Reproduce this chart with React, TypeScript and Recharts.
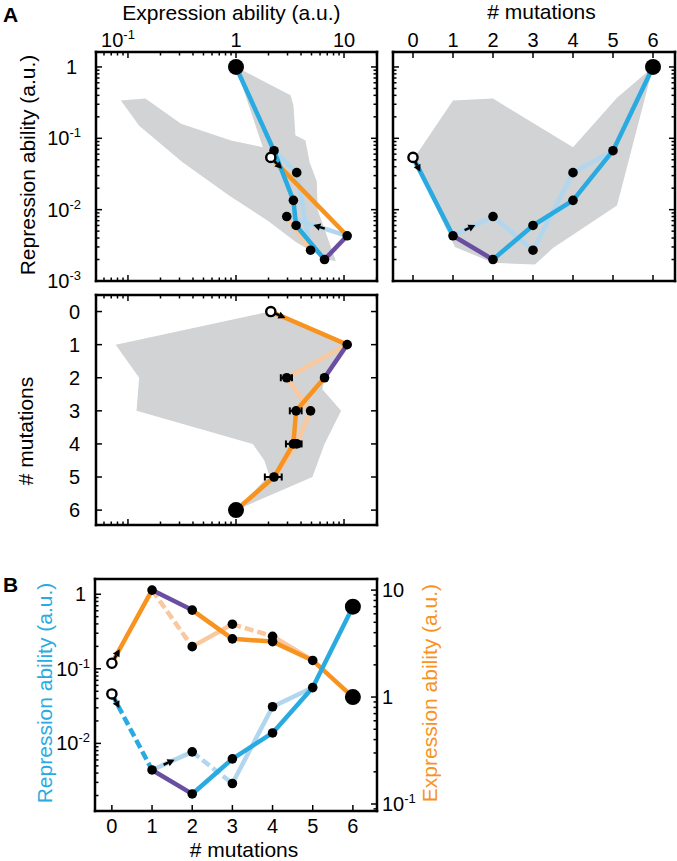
import React from 'react';
import { ScatterChart, Scatter, XAxis, YAxis } from 'recharts';

const W = 677;
const H = 861;
const FONT = '"Liberation Sans", Arial, Helvetica, sans-serif';

const BLUE = '#29abe2';
const ORANGE = '#f7931e';
const PURPLE = '#6a4fa0';
const LIGHT_BLUE = '#b1d6ee';
const LIGHT_ORANGE = '#f9c89e';
const GRAY = '#d1d3d4';

// main path, one value per mutation step
const steps = [0, 1, 2, 3, 4, 5, 6];
const repression = [0.054, 0.0043, 0.002, 0.006, 0.0135, 0.067, 1];
const expression = [2.1, 10.7, 6.6, 3.6, 3.4, 2.25, 1];
// alternative path (steps 2-4)
const altSteps = [2, 3, 4];
const altRepression = [0.008, 0.0027, 0.033];
const altExpression = [2.95, 4.9, 3.65];
// panel B values
const repressionB = [0.046, 0.0044, 0.0021, 0.0062, 0.0138, 0.056, 0.68];
const expressionB = [2.07, 10, 6.5, 3.5, 3.3, 2.2, 1];
const altRepressionB = [0.0077, 0.0029, 0.031];
const altExpressionB = [2.96, 4.8, 3.7];
// horizontal error bars on expression (panel A, bottom)
const errIds = ['a2', 'm3', 'm4', 'a4', 'm5'];
const errExpression = [0.35, 0.45, 0.5, 0.4, 0.4];

// grey envelopes
const envTLExpression = [0.086, 0.145, 0.31, 0.9, 1.77, 1.0, 3.2, 3.4, 3.55, 4.4, 4.8, 5.6, 5.7, 8.4, 6.8, 3.6, 2.0, 0.87, 0.32, 0.127];
const envTLRepression = [0.34, 0.36, 0.16, 0.093, 0.075, 1.0, 0.4, 0.29, 0.11, 0.093, 0.046, 0.025, 0.01, 0.0019, 0.002, 0.0035, 0.0069, 0.0156, 0.046, 0.15];
const envTRSteps = [0, 1, 2, 4, 5.1, 6, 5.1, 3.5, 3.05, 2, 1.05];
const envTRRepression = [0.05, 0.34, 0.36, 0.075, 0.37, 1, 0.0114, 0.0029, 0.0017, 0.0018, 0.003];
const envBLExpression = [2.05, 0.077, 0.127, 0.12, 1.43, 1.83, 2.03, 1.0, 5.1, 6.6, 9.4, 6.3, 6.6, 10.7];
const envBLSteps = [0, 1, 2, 3, 4, 4.5, 4.95, 6, 5, 4, 3, 2.35, 2, 1];

const logTicks = (lo: number, hi: number) => {
  const out: number[] = [];
  for (let e = Math.floor(Math.log10(lo)); e <= Math.ceil(Math.log10(hi)); e++) {
    for (let m = 1; m <= 9; m++) {
      const v = Number((m * Math.pow(10, e)).toPrecision(3));
      if (v >= lo && v <= hi) out.push(v);
    }
  }
  return out;
};

type Side = 'top' | 'bottom' | 'left' | 'right';
interface AxisSpec { domain: [number, number]; log: boolean; ticks: number[]; reversed?: boolean }

const exprAxis: AxisSpec = { domain: [0.0506, 20.2], log: true, ticks: logTicks(0.0506, 20.2) };
const repAxis: AxisSpec = { domain: [0.001, 1.62], log: true, ticks: logTicks(0.001, 1.62) };
const stepAxisTR: AxisSpec = { domain: [-0.5, 6.55], log: false, ticks: steps };
const stepAxisBL: AxisSpec = { domain: [-0.5, 6.45], log: false, ticks: steps, reversed: true };
const stepAxisB: AxisSpec = { domain: [-0.42, 6.6], log: false, ticks: steps };
const repAxisB: AxisSpec = { domain: [0.00124, 1.6], log: true, ticks: logTicks(0.00124, 1.6) };
const expAxisB: AxisSpec = { domain: [0.086, 12.7], log: true, ticks: logTicks(0.086, 12.7) };

const AXIS_LINE = { stroke: '#000', strokeWidth: 2.5, strokeLinecap: 'square' as const };

const makeTick = (side: Side, log: boolean, gap: number | null) => (props: any) => {
  const { x, y, payload } = props;
  const v = Number(payload.value);
  const e = log ? Math.round(Math.log10(v)) : 0;
  const major = !log || Math.abs(Math.log10(v) - e) < 1e-6;
  const len = major ? 6 : 3.5;
  const dx = side === 'left' ? len : side === 'right' ? -len : 0;
  const dy = side === 'top' ? len : side === 'bottom' ? -len : 0;
  let label: React.ReactNode = null;
  if (gap !== null && major) {
    const sup = log && e !== 0 && e !== 1;
    let lx = x;
    let ly = y;
    let anchor: 'start' | 'middle' | 'end' = 'middle';
    if (side === 'top') { ly = y - gap; if (sup) lx = x - 10; }
    else if (side === 'bottom') ly = y + gap;
    else if (side === 'left') { lx = x - gap - (log && !sup ? 4 : 0); ly = y + 7; anchor = 'end'; }
    else { lx = x + gap; ly = y + 7; anchor = 'start'; }
    const body = !log ? String(v) : e === 0 ? '1' : e === 1 ? '10' : (
      <>10<tspan fontSize={13} dy={-8}>{e}</tspan></>
    );
    label = (
      <text x={lx} y={ly} textAnchor={anchor} fontSize={20} fontFamily={FONT} fill="#000">{body}</text>
    );
  }
  return (
    <g>
      <line x1={x} y1={y} x2={x + dx} y2={y + dy} stroke="#000" strokeWidth={1.5} />
      {label}
    </g>
  );
};

const xAxis = (id: string, side: 'top' | 'bottom', s: AxisSpec, gap: number | null, ticks = true) => (
  <XAxis key={id} xAxisId={id} orientation={side} type="number" dataKey="x"
    scale={s.log ? 'log' : 'linear'} domain={s.domain} allowDataOverflow reversed={s.reversed}
    ticks={s.ticks} interval={0} height={1} tickSize={0} tickMargin={0} tickLine={false}
    axisLine={AXIS_LINE} tick={ticks ? makeTick(side, s.log, gap) : false} />
);

const yAxis = (id: string, side: 'left' | 'right', s: AxisSpec, gap: number | null) => (
  <YAxis key={id} yAxisId={id} orientation={side} type="number" dataKey="y"
    scale={s.log ? 'log' : 'linear'} domain={s.domain} allowDataOverflow reversed={s.reversed}
    ticks={s.ticks} interval={0} width={1} tickSize={0} tickMargin={0} tickLine={false}
    axisLine={AXIS_LINE} tick={makeTick(side, s.log, gap)} />
);

type Pt = { x: number; y: number };
type Coord = (id: string) => Pt;

const valueOf = (main: number[], alt: number[], id: string) => {
  const n = Number(id.slice(1));
  return id[0] === 'm' ? main[steps.indexOf(n)] : alt[altSteps.indexOf(n)];
};
const stepOf = (id: string) => Number(id.slice(1));

const tlCoord: Coord = (id) => ({ x: valueOf(expression, altExpression, id), y: valueOf(repression, altRepression, id) });
const trCoord: Coord = (id) => ({ x: stepOf(id), y: valueOf(repression, altRepression, id) });
const blCoord: Coord = (id) => ({ x: valueOf(expression, altExpression, id), y: stepOf(id) });
const bRepCoord: Coord = (id) => ({ x: stepOf(id), y: valueOf(repressionB, altRepressionB, id) });
const bExpCoord: Coord = (id) => ({ x: stepOf(id), y: valueOf(expressionB, altExpressionB, id) });

const noShape = () => <g />;

const hullShape = (p: any) => (
  <polygon points={p.points.map((q: any) => `${q.x},${q.y}`).join(' ')} fill={GRAY} stroke="none" />
);

// horizontal error bar drawn between the low and high points
const errShape = (p: any) => {
  const [a, b] = p.points;
  return (
    <g stroke="#000" strokeWidth={2}>
      <line x1={a.x} y1={a.y} x2={b.x} y2={b.y} />
      <line x1={a.x} y1={a.y - 3.5} x2={a.x} y2={a.y + 3.5} />
      <line x1={b.x} y1={b.y - 3.5} x2={b.x} y2={b.y + 3.5} />
    </g>
  );
};

const arrowShape = (at: number, frac: boolean) => (p: any) => {
  const [a, b] = p.points;
  const dx = b.x - a.x;
  const dy = b.y - a.y;
  const L = Math.hypot(dx, dy) || 1;
  const ux = dx / L;
  const uy = dy / L;
  const d = frac ? at * L : at;
  const tx = a.x + ux * d;
  const ty = a.y + uy * d;
  const nx = -uy;
  const ny = ux;
  const bx = tx - ux * 7;
  const by = ty - uy * 7;
  return (
    <g>
      <line x1={tx - ux * 12} y1={ty - uy * 12} x2={bx} y2={by} stroke="#000" strokeWidth={2.5} />
      <polygon points={`${tx},${ty} ${bx + nx * 3.8},${by + ny * 3.8} ${bx - nx * 3.8},${by - ny * 3.8}`} fill="#000" />
    </g>
  );
};

interface Seg { ids: string[]; color: string; dashed?: boolean }
interface Arrow { ids: string[]; at: number; frac?: boolean }

const hull = (key: string, xs: number[], ys: number[], xId: string, yId: string) => (
  <Scatter key={key} data={xs.map((x, i) => ({ x, y: ys[i] }))} xAxisId={xId} yAxisId={yId}
    fill={GRAY} line={hullShape} lineType="joint" shape={noShape} isAnimationActive={false} />
);

const segments = (key: string, coord: Coord, xId: string, yId: string, segs: Seg[]) =>
  segs.map((s, i) => (
    <Scatter key={`${key}-${i}`} data={s.ids.map(coord)} xAxisId={xId} yAxisId={yId} fill={s.color}
      line={{ stroke: s.color, strokeWidth: 4.5, strokeDasharray: s.dashed ? '9 4' : undefined,
        strokeLinejoin: 'round', strokeLinecap: s.dashed ? 'butt' : 'round' }}
      lineType="joint" shape={noShape} isAnimationActive={false} />
  ));

const arrows = (key: string, coord: Coord, xId: string, yId: string, list: Arrow[]) =>
  list.map((a, i) => (
    <Scatter key={`${key}-${i}`} data={a.ids.map(coord)} xAxisId={xId} yAxisId={yId} fill="#000"
      line={arrowShape(a.at, !!a.frac)} lineType="joint" shape={noShape} isAnimationActive={false} />
  ));

const errorBars = (key: string, xId: string, yId: string) =>
  errIds.map((id, i) => {
    const c = blCoord(id);
    const e = errExpression[i];
    return (
      <Scatter key={`${key}-${i}`} data={[{ x: c.x - e, y: c.y }, { x: c.x + e, y: c.y }]} xAxisId={xId} yAxisId={yId}
        fill="#000" line={errShape} lineType="joint" shape={noShape} isAnimationActive={false} />
    );
  });

const dots = (key: string, coord: Coord, xId: string, yId: string) => [
  <Scatter key={`${key}-s`} data={['m1', 'm2', 'm3', 'm4', 'm5', 'a2', 'a3', 'a4'].map(coord)} xAxisId={xId} yAxisId={yId}
    fill="#000" shape={(p: any) => <circle cx={p.cx} cy={p.cy} r={4.8} fill="#000" />} isAnimationActive={false} />,
  <Scatter key={`${key}-b`} data={['m6'].map(coord)} xAxisId={xId} yAxisId={yId}
    fill="#000" shape={(p: any) => <circle cx={p.cx} cy={p.cy} r={8} fill="#000" />} isAnimationActive={false} />,
  <Scatter key={`${key}-o`} data={['m0'].map(coord)} xAxisId={xId} yAxisId={yId}
    fill="#fff" shape={(p: any) => <circle cx={p.cx} cy={p.cy} r={4.6} fill="#fff" stroke="#000" strokeWidth={2.4} />} isAnimationActive={false} />,
];

interface Plot { x: number; y: number; w: number; h: number }

const chart = (key: string, p: Plot, children: React.ReactNode[]) => (
  <div key={key} style={{ position: 'absolute', left: 0, top: 0 }}>
    <ScatterChart width={W} height={H}
      margin={{ top: p.y - 1, left: p.x - 1, right: W - p.x - p.w - 1, bottom: H - p.y - p.h - 1 }}>
      {children}
    </ScatterChart>
  </div>
);

const tlSegs: Seg[] = [
  { ids: ['m1', 'a2'], color: LIGHT_BLUE },
  { ids: ['a3', 'a4', 'm5'], color: LIGHT_BLUE },
  { ids: ['a2', 'a3'], color: LIGHT_ORANGE },
  { ids: ['m0', 'm1'], color: ORANGE },
  { ids: ['m2', 'm3', 'm4', 'm5', 'm6'], color: BLUE },
  { ids: ['m1', 'm2'], color: PURPLE },
];
const trSegs: Seg[] = [
  { ids: ['m1', 'a2', 'a3', 'a4', 'm5'], color: LIGHT_BLUE },
  { ids: ['m0', 'm1'], color: BLUE },
  { ids: ['m2', 'm3', 'm4', 'm5', 'm6'], color: BLUE },
  { ids: ['m1', 'm2'], color: PURPLE },
];
const blSegs: Seg[] = [
  { ids: ['m1', 'a2', 'a3', 'a4', 'm5'], color: LIGHT_ORANGE },
  { ids: ['m0', 'm1'], color: ORANGE },
  { ids: ['m2', 'm3', 'm4', 'm5', 'm6'], color: ORANGE },
  { ids: ['m1', 'm2'], color: PURPLE },
];
const bLightRep: Seg[] = [
  { ids: ['m1', 'a2'], color: LIGHT_BLUE },
  { ids: ['a2', 'a3'], color: LIGHT_BLUE, dashed: true },
  { ids: ['a3', 'a4', 'm5'], color: LIGHT_BLUE },
];
const bLightExp: Seg[] = [
  { ids: ['m1', 'a2'], color: LIGHT_ORANGE, dashed: true },
  { ids: ['a2', 'a3'], color: LIGHT_ORANGE },
  { ids: ['a3', 'a4'], color: LIGHT_ORANGE, dashed: true },
  { ids: ['a4', 'm5'], color: LIGHT_ORANGE },
];
const bMainExp: Seg[] = [
  { ids: ['m0', 'm1'], color: ORANGE },
  { ids: ['m2', 'm3', 'm4', 'm5', 'm6'], color: ORANGE },
  { ids: ['m1', 'm2'], color: PURPLE },
];
const bMainRep: Seg[] = [
  { ids: ['m0', 'm1'], color: BLUE, dashed: true },
  { ids: ['m2', 'm3', 'm4', 'm5', 'm6'], color: BLUE },
  { ids: ['m1', 'm2'], color: PURPLE },
];

const startArrow: Arrow = { ids: ['m0', 'm1'], at: 16 };
const midArrow: Arrow = { ids: ['m1', 'a2'], at: 0.56, frac: true };

export default function App() {
  const tl: Plot = { x: 96, y: 52, w: 281, h: 229 };
  const tr: Plot = { x: 393, y: 52, w: 282, h: 229 };
  const bl: Plot = { x: 96, y: 295, w: 281, h: 230 };
  const b: Plot = { x: 95, y: 579, w: 282, h: 232 };

  const title = { fontFamily: FONT, fontSize: 21 };

  return (
    <div style={{ position: 'absolute', left: 0, top: 0, width: W, height: H, background: '#fff' }}>
      {chart('tl', tl, [
        xAxis('t', 'top', exprAxis, 5),
        xAxis('b', 'bottom', exprAxis, null),
        yAxis('l', 'left', repAxis, 15),
        yAxis('r', 'right', repAxis, null),
        hull('hull', envTLExpression, envTLRepression, 'b', 'l'),
        ...segments('seg', tlCoord, 'b', 'l', tlSegs),
        ...arrows('arr', tlCoord, 'b', 'l', [startArrow, midArrow]),
        ...dots('dot', tlCoord, 'b', 'l'),
      ])}
      {chart('tr', tr, [
        xAxis('t', 'top', stepAxisTR, 5),
        xAxis('b', 'bottom', stepAxisTR, null),
        yAxis('l', 'left', repAxis, null),
        yAxis('r', 'right', repAxis, null),
        hull('hull', envTRSteps, envTRRepression, 'b', 'l'),
        ...segments('seg', trCoord, 'b', 'l', trSegs),
        ...arrows('arr', trCoord, 'b', 'l', [startArrow, midArrow]),
        ...dots('dot', trCoord, 'b', 'l'),
      ])}
      {chart('bl', bl, [
        xAxis('t', 'top', exprAxis, null),
        xAxis('b', 'bottom', exprAxis, null),
        yAxis('l', 'left', stepAxisBL, 16),
        yAxis('r', 'right', stepAxisBL, null),
        hull('hull', envBLExpression, envBLSteps, 'b', 'l'),
        ...segments('seg', blCoord, 'b', 'l', blSegs),
        ...arrows('arr', blCoord, 'b', 'l', [startArrow]),
        ...errorBars('err', 'b', 'l'),
        ...dots('dot', blCoord, 'b', 'l'),
      ])}
      {chart('b', b, [
        xAxis('t', 'top', stepAxisB, null, false),
        xAxis('b', 'bottom', stepAxisB, 22),
        yAxis('rep', 'left', repAxisB, 5),
        yAxis('exp', 'right', expAxisB, 5),
        ...segments('lr', bRepCoord, 'b', 'rep', bLightRep),
        ...segments('le', bExpCoord, 'b', 'exp', bLightExp),
        ...segments('me', bExpCoord, 'b', 'exp', bMainExp),
        ...segments('mr', bRepCoord, 'b', 'rep', bMainRep),
        ...arrows('ae', bExpCoord, 'b', 'exp', [startArrow]),
        ...arrows('ar', bRepCoord, 'b', 'rep', [startArrow, midArrow]),
        ...dots('dr', bRepCoord, 'b', 'rep'),
        ...dots('de', bExpCoord, 'b', 'exp'),
      ])}
      <svg width={W} height={H} style={{ position: 'absolute', left: 0, top: 0, pointerEvents: 'none' }}>
        <text x={3} y={22} fontFamily={FONT} fontSize={21} fontWeight="bold">A</text>
        <text x={3} y={592} fontFamily={FONT} fontSize={21} fontWeight="bold">B</text>
        <text x={231.5} y={20} textAnchor="middle" {...title}>Expression ability (a.u.)</text>
        <text x={541.5} y={18.5} textAnchor="middle" {...title}># mutations</text>
        <text x={35} y={165} textAnchor="middle" transform="rotate(-90 35 165)" {...title}>Repression ability (a.u.)</text>
        <text x={33} y={431} textAnchor="middle" transform="rotate(-90 33 431)" {...title}># mutations</text>
        <text x={52} y={693} textAnchor="middle" transform="rotate(-90 52 693)" fill={BLUE} {...title}>Repression ability (a.u.)</text>
        <text x={437} y={693} textAnchor="middle" transform="rotate(-90 437 693)" fill={ORANGE} {...title}>Expression ability (a.u.)</text>
        <text x={244} y={857} textAnchor="middle" {...title}># mutations</text>
      </svg>
    </div>
  );
}
